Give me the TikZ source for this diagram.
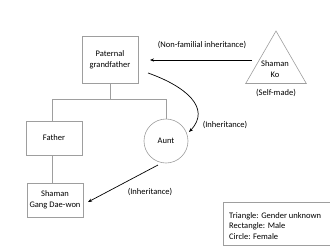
\documentclass[tikz,border=0pt]{standalone}
\usepackage{fontspec}
\setmainfont{Carlito}
\usetikzlibrary{shapes.geometric,arrows.meta}
\begin{document}
\begin{tikzpicture}[x=1pt,y=-1pt,
  txt/.style={font=\fontsize{8.5}{11}\selectfont, align=center, inner sep=0pt},
  person/.style={draw=black!38, line width=0.6pt, txt},
  tree/.style={draw=black!38, line width=0.6pt},
  arr/.style={draw=black, line width=0.7pt, -{Stealth[length=4pt,width=3.2pt]}}]
\useasboundingbox (0,0) rectangle (330,247);
\clip (0,0) rectangle (330,247);
% persons
\node[person, minimum width=56pt, minimum height=47pt] (gf) at (110,59.5) {Paternal\\grandfather};
\node[person, minimum width=56pt, minimum height=34pt] (fa) at (54,138) {Father};
\node[person, minimum width=56pt, minimum height=34pt] (sg) at (55,200) {Shaman\\Gang Dae-won};
\node[person, circle, minimum size=44pt] (au) at (166,141) {Aunt};
\node[draw=black!38, line width=0.6pt, regular polygon, regular polygon sides=3, minimum size=70pt, inner sep=0pt] (ko) at (276,66) {};
\node[txt] (kot) at (275,69) {Shaman\\Ko};
\node[txt] (self) at (276,93) {(Self-made)};
% tree
\coordinate (j) at (110,99);
\coordinate (jl) at (52,99);
\coordinate (jr) at (166,99);
\draw[tree] (gf.south) -- (j);
\draw[tree] (jl) -- (jr);
\draw[tree] (jl) -- (jl |- fa.north);
\draw[tree] (jr) -- (au.north);
\draw[tree] (fa.south -| jl) -- (sg.north -| jl);
% arrows
\coordinate (k1) at (252,60);
\coordinate (k2) at (150,60);
\draw[arr] (k1) -- (k2);
\node[txt] (lnf) at (202,45) {(Non-familial inheritance)};
\coordinate (c1) at (148,73);
\coordinate (c2) at (189,132);
\draw[arr] (c1) .. controls (185,86) and (212,108) .. (c2);
\node[txt] (li1) at (225,125) {(Inheritance)};
\coordinate (d1) at (158,165);
\coordinate (d2) at (88,202);
\draw[arr] (d1) -- (d2);
\node[txt] (li2) at (150,192) {(Inheritance)};
% legend
\node[draw=black!38, line width=0.6pt, minimum width=112pt, minimum height=43pt, anchor=north west, inner sep=0pt] (lg) at (223,202) {};
\node[font=\fontsize{8.5}{10.3}\selectfont, align=left, anchor=north west, inner sep=0pt] (lgt) at (229,212.5) {Triangle: Gender unknown\\Rectangle: Male\\Circle: Female};
\end{tikzpicture}
\end{document}
